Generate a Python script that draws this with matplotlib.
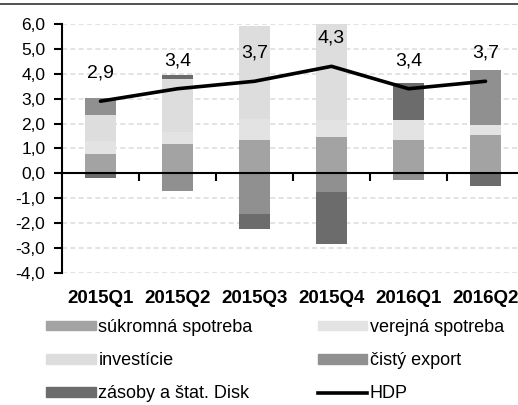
import numpy as np
import matplotlib.pyplot as plt
from matplotlib.patches import Patch
from matplotlib.lines import Line2D

plt.rcParams['font.family'] = ['Liberation Sans', 'DejaVu Sans']

# Príspevky k rastu HDP (p.b.)
quarters = ['2015Q1', '2015Q2', '2015Q3', '2015Q4', '2016Q1', '2016Q2']
sukromna = [0.79, 1.17, 1.35, 1.45, 1.33, 1.55]
verejna = [0.50, 0.50, 0.85, 0.70, 0.83, 0.38]
investicie = [1.04, 2.13, 3.70, 4.90, 0.00, 0.00]
cisty_export = [0.70, -0.71, -1.65, -0.75, -0.28, 2.23]
zasoby = [-0.17, 0.17, -0.60, -2.07, 1.48, -0.51]
hdp = [2.9, 3.4, 3.7, 4.3, 3.4, 3.7]

series = [
    ('súkromná spotreba', sukromna, '#a3a3a3'),
    ('verejná spotreba', verejna, '#e3e3e3'),
    ('investície', investicie, '#dddddd'),
    ('čistý export', cisty_export, '#909090'),
    ('zásoby a štat. Disk', zasoby, '#6c6c6c'),
]

fig = plt.figure(figsize=(5.18, 4.05), dpi=100)
ax = fig.add_axes([62 / 518, 132 / 405, 462 / 518, 249 / 405])

x = np.arange(len(quarters))
pos_bottom = np.zeros(len(x))
neg_bottom = np.zeros(len(x))
for name, vals, col in series:
    v = np.array(vals)
    bottom = np.where(v >= 0, pos_bottom, neg_bottom)
    ax.bar(x, v, 0.41, bottom=bottom, color=col, zorder=2)
    pos_bottom += np.where(v >= 0, v, 0)
    neg_bottom += np.where(v < 0, v, 0)

ax.plot(x, hdp, color='black', lw=2.6, zorder=4, solid_capstyle='round')
for xi, val in zip(x, hdp):
    ax.annotate(f'{val:.1f}'.replace('.', ','), (xi, val), xytext=(0, 28),
                textcoords='offset pixels', ha='center', va='center',
                fontsize=14, zorder=5)

ax.set_xlim(-0.5, 5.5)
ax.set_ylim(-4, 6)
yt = np.arange(-4, 7)
ax.set_yticks(yt, [f'{v:.1f}'.replace('.', ',') for v in yt])
ax.tick_params(axis='y', direction='out', length=6, width=1.5, pad=6,
               labelsize=12.5)
for v in yt:
    if v != 0:
        ax.axhline(v, color='#dedede', lw=1.2, ls=(0, (3, 2)), zorder=1)

for s in ['top', 'right']:
    ax.spines[s].set_visible(False)
ax.spines['left'].set_linewidth(1.5)
ax.spines['bottom'].set_position(('data', 0))
ax.spines['bottom'].set_linewidth(1.5)
ax.spines['bottom'].set_zorder(3)

ax.set_xticks(x[:-1] + 0.5, [''] * (len(x) - 1))
ax.tick_params(axis='x', direction='out', length=6, width=1.5)

sec = ax.secondary_xaxis('bottom')
sec.spines['bottom'].set_visible(False)
sec.set_xticks(x, quarters)
sec.tick_params(length=0, pad=12)
for lbl in sec.get_xticklabels():
    lbl.set_fontsize(13.5)
    lbl.set_fontweight('bold')

handles = [Patch(color=c) for _, _, c in series]
labels = [n for n, _, _ in series]
order = [0, 2, 4, 1, 3]
h = [handles[i] for i in order]
l = [labels[i] for i in order]
h.append(Line2D([], [], color='black', lw=2.6))
l.append('HDP')
fig.legend(h, l, ncol=2, loc='upper left', bbox_to_anchor=(46 / 518, 1 - 319 / 405),
           frameon=False, fontsize=13, handlelength=2.75, handleheight=0.45,
           handletextpad=0.15, columnspacing=3.6, labelspacing=0.9, borderpad=0,
           borderaxespad=0)

fig.add_artist(Line2D([0, 1], [1 - 4 / 405, 1 - 4 / 405], color='#333333', lw=1.2))

fig.savefig('out.png', dpi=100)
